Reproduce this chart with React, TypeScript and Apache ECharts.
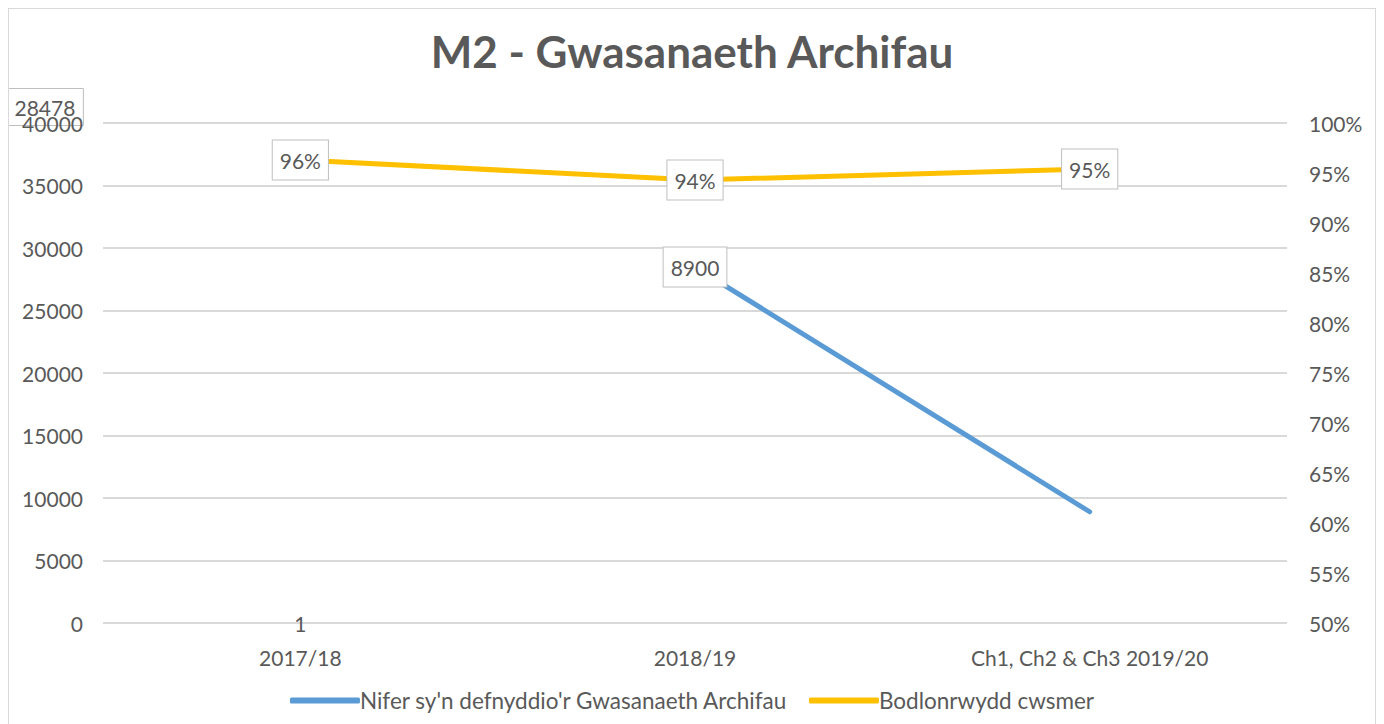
import React, { useEffect, useRef } from "react";
import * as echarts from "echarts";

const categories = ["2017/18", "2018/19", "Ch1, Ch2 & Ch3 2019/20"];
const usersName = "Nifer sy'n defnyddio'r Gwasanaeth Archifau";
const satisfactionName = "Bodlonrwydd cwsmer";
const usersValues: (number | null)[] = [null, 28478, 8900];
const satisfactionValues = [0.963, 0.943, 0.954];
// Data labels as they appear on the chart (offset from their points)
const usersLabelValues: (number | null)[] = [0, 28478, null];
const usersLabelTexts = ["1", "8900", ""];
const strayLabel = "28478";
const leftTicks = [0, 5000, 10000, 15000, 20000, 25000, 30000, 35000, 40000];

const FONT = "Lato, 'Open Sans', sans-serif";
const GREY = "#595959";
const FS = 21;

export default function App() {
  const ref = useRef<HTMLDivElement>(null);
  useEffect(() => {
    if (!ref.current) return;
    const chart = echarts.init(ref.current, undefined, { renderer: "svg" });
    const boxLabel = {
      show: true,
      position: "inside" as const,
      color: GREY,
      fontSize: FS,
      fontFamily: FONT,
      backgroundColor: "#fff",
      borderColor: "#bfbfbf",
      borderWidth: 1,
      padding: [9, 7, 9, 7],
    };
    chart.setOption({
      animation: false,
      textStyle: { fontFamily: FONT },
      title: {
        text: "M2 - Gwasanaeth Archifau",
        left: "center",
        top: 15,
        textStyle: { fontSize: 44, fontWeight: "bold", color: GREY, fontFamily: FONT },
      },
      legend: {
        bottom: 30,
        left: "center",
        itemWidth: 70,
        itemHeight: 6,
        itemGap: 21,
        icon: "roundRect",
        textStyle: { fontSize: 22.5, color: GREY, fontFamily: FONT, padding: [0, 0, 0, -5] },
        data: [usersName, satisfactionName],
      },
      grid: { left: 94, right: 88, top: 114, bottom: 124 },
      xAxis: {
        type: "category",
        data: categories,
        boundaryGap: true,
        axisLine: { show: false },
        axisTick: { show: false },
        axisLabel: { color: GREY, fontSize: FS, fontFamily: FONT, margin: 24 },
      },
      yAxis: [
        {
          type: "value",
          min: leftTicks[0],
          max: leftTicks[leftTicks.length - 1],
          interval: 5000,
          axisLine: { show: false },
          axisTick: { show: false },
          splitLine: { lineStyle: { color: "#d9d9d9", width: 2 } },
          axisLabel: {
            color: GREY,
            fontSize: FS,
            fontFamily: FONT,
            margin: 20,
            formatter: (v: number) => String(v),
          },
        },
        {
          type: "value",
          min: 0.5,
          max: 1,
          interval: 0.05,
          axisLine: { show: false },
          axisTick: { show: false },
          splitLine: { show: false },
          axisLabel: {
            color: GREY,
            fontSize: FS,
            fontFamily: FONT,
            margin: 22,
            formatter: (v: number) => Math.round(v * 100) + "%",
          },
        },
      ],
      series: [
        {
          name: usersName,
          type: "line",
          yAxisIndex: 0,
          data: usersValues,
          symbol: "none",
          lineStyle: { color: "#5b9bd5", width: 5, cap: "round", join: "round" },
          itemStyle: { color: "#5b9bd5" },
          z: 2,
        },
        {
          name: satisfactionName,
          type: "line",
          yAxisIndex: 1,
          data: satisfactionValues,
          symbol: "circle",
          symbolSize: 1,
          showSymbol: true,
          lineStyle: { color: "#ffc000", width: 5, cap: "round", join: "round" },
          itemStyle: { color: "#ffc000" },
          label: {
            ...boxLabel,
            formatter: (p: any) => Math.round(p.value * 100) + "%",
          },
          labelLayout: { hideOverlap: false },
          emphasis: { disabled: true },
          z: 3,
        },
        {
          name: "labels",
          type: "line",
          yAxisIndex: 0,
          data: usersLabelValues.map((v, i) =>
            i === 0 && v !== null
              ? { value: v, label: { backgroundColor: "transparent", borderWidth: 0, padding: 0 } }
              : v
          ),
          symbol: "circle",
          symbolSize: 1,
          showSymbol: true,
          itemStyle: { color: "transparent" },
          lineStyle: { width: 0, color: "transparent" },
          silent: true,
          z: 5,
          label: {
            ...boxLabel,
            formatter: (p: any) => usersLabelTexts[p.dataIndex],
          },
          emphasis: { disabled: true },
        },
      ],
      graphic: [
        {
          type: "text",
          left: -1,
          top: 79,
          z: -1,
          style: {
            text: strayLabel,
            fontSize: FS,
            fontFamily: FONT,
            fill: GREY,
            borderColor: "#bfbfbf",
            borderWidth: 1,
            padding: [8, 8, 8, 6],
          },
        },
      ],
    });
    return () => chart.dispose();
  }, []);
  return (
    <div
      ref={ref}
      style={{
        width: 1368,
        height: 740,
        border: "1px solid #d9d9d9",
        boxSizing: "border-box",
        background: "#fff",
      }}
    />
  );
}
